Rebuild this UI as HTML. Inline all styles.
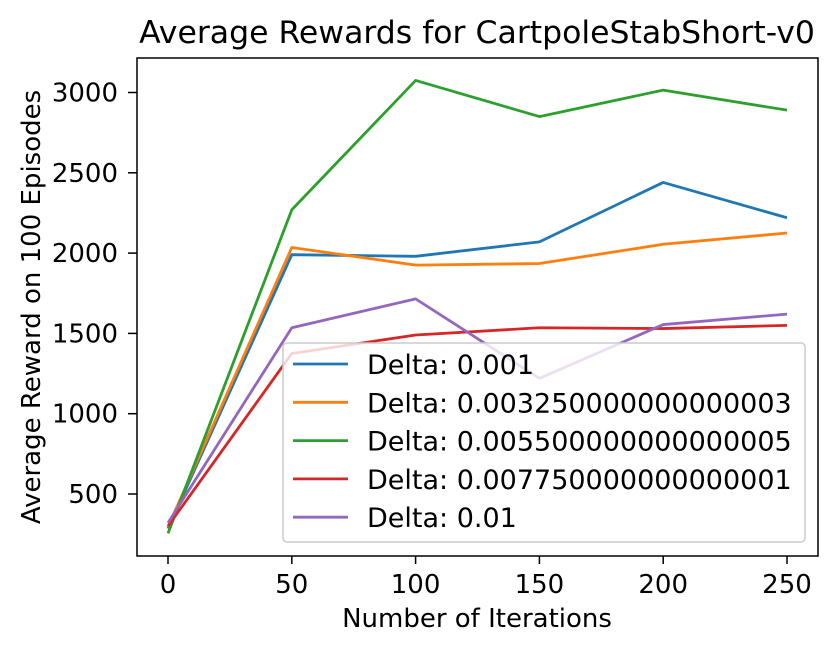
<!DOCTYPE html>
<html><head><meta charset="utf-8"><style>body{margin:0;background:#fff}svg{font-family:"DejaVu Sans","Liberation Sans",sans-serif}</style></head>
<body>
<svg id="c" width="840" height="646"></svg>
<script>
const iterations=[0,50,100,150,200,250];
const labels=["Delta: 0.001","Delta: 0.003250000000000003","Delta: 0.005500000000000005","Delta: 0.007750000000000001","Delta: 0.01"];
const colors=["#1f77b4","#ff7f0e","#2ca02c","#d62728","#9467bd"];
const s1=[285,1990,1980,2070,2440,2220];
const s2=[295,2035,1925,1935,2055,2125];
const s3=[255,2270,3075,2850,3015,2890];
const s4=[300,1375,1490,1535,1530,1550];
const s5=[320,1535,1715,1220,1555,1620];
const series=[s1,s2,s3,s4,s5];
const xTicks=[0,50,100,150,200,250];
const yTicks=[500,1000,1500,2000,2500,3000];
const L=137,R=818,T=58,B=556;
const X=v=>168+v*2.476, Y=v=>494-(v-500)*0.1606;
const svg=document.getElementById('c');const NS="http://www.w3.org/2000/svg";
function mk(t,a,p){const e=document.createElementNS(NS,t);for(const k in a)e.setAttribute(k,a[k]);(p||svg).appendChild(e);return e;}
series.forEach((s,i)=>{const p=mk('polyline',{points:s.map((v,j)=>X(iterations[j])+','+Y(v)).join(' '),fill:'none',stroke:colors[i],'stroke-width':2.8,'stroke-linejoin':'round'});

});
const f=mk('rect',{x:L,y:T,width:R-L,height:B-T,fill:'none',stroke:'#000','stroke-width':1.5});


xTicks.forEach(v=>{mk('line',{x1:X(v),x2:X(v),y1:B,y2:B+8,stroke:'#000','stroke-width':1.5});const t=mk('text',{x:X(v),y:593,'text-anchor':'middle','font-size':26});t.textContent=v;

});
yTicks.forEach(v=>{mk('line',{x1:L-9,x2:L,y1:Y(v),y2:Y(v),stroke:'#000','stroke-width':1.5});const t=mk('text',{x:L-19,y:Y(v)+9,'text-anchor':'end','font-size':26});t.textContent=v;

});
const tt=mk('text',{x:477,y:43,'text-anchor':'middle','font-size':31.5});tt.textContent="Average Rewards for CartpoleStabShort-v0";


const xl=mk('text',{x:477,y:627,'text-anchor':'middle','font-size':26});xl.textContent="Number of Iterations";


const yl=mk('text',{x:0,y:0,'text-anchor':'middle','font-size':26,transform:'translate(40,307) rotate(-90)'});yl.textContent="Average Reward on 100 Episodes";


const lg=mk('rect',{x:283,y:343,width:522,height:199,rx:4,fill:'rgba(255,255,255,0.8)',stroke:'#ccc','stroke-width':1.5});


labels.forEach((lab,i)=>{const y=364+i*38.3;mk('line',{x1:293,x2:348,y1:y,y2:y,stroke:colors[i],'stroke-width':2.8});const t=mk('text',{x:367,y:y+10,'font-size':27});t.textContent=lab;

});
</script>
</body></html>
